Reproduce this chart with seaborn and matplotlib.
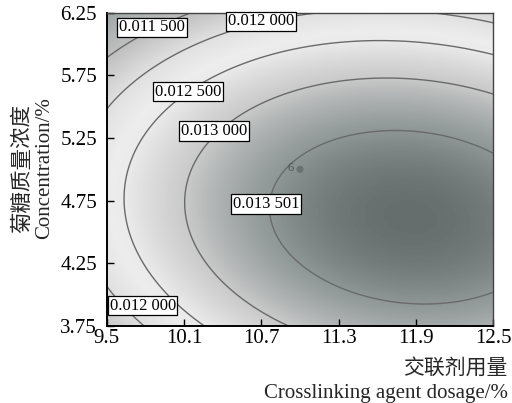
import numpy as np
import matplotlib
matplotlib.use("Agg")
import matplotlib.pyplot as plt
import seaborn as sns
from matplotlib.colors import LinearSegmentedColormap, Normalize

# ---- data ----
# quadratic response-surface coefficients in coded units
# u = (dosage - 11.0) / 1.5 , v = (concentration - 5.0) / 1.25
coef_names = ["b0", "bu", "bv", "buu", "bvv", "buv"]
coef_vals = [0.0135529, 0.0006420, -0.0005458, -0.0006099, -0.0010483, -0.0001685]
center_code = [11.0, 5.0]
step_code = [1.5, 1.25]

contour_levels = [0.0115, 0.0120, 0.0125, 0.0130, 0.013501]
label_texts = ["0.011 500", "0.012 000", "0.012 500", "0.013 000", "0.013 501", "0.012 000"]

x_ticks = [9.5, 10.1, 10.7, 11.3, 11.9, 12.5]
x_ticklabels = ["9.5", "10.1", "10.7", "11.3", "11.9", "12.5"]
y_ticks = [3.75, 4.25, 4.75, 5.25, 5.75, 6.25]
y_ticklabels = ["3.75", "4.25", "4.75", "5.25", "5.75", "6.25"]

design_x = [11.0]
design_y = [5.0]
design_n = ["6"]

xlabel_cn = "交联剂用量"
xlabel_en = "Crosslinking agent dosage/%"
ylabel_cn = "菊糖质量浓度"
ylabel_en = "Concentration/%"

# ---- style ----
sns.set_theme(style="white")
plt.rcParams['font.family'] = ['Liberation Serif', 'Noto Sans CJK SC']
cn_font = ['Noto Sans CJK SC', 'DejaVu Sans']

fig = plt.figure(figsize=(5.12, 4.03), dpi=100)
ax = fig.add_axes([0.2084, 0.1911, 0.7551, 0.7774])

xg = np.linspace(x_ticks[0], x_ticks[-1], 400)
yg = np.linspace(y_ticks[0], y_ticks[-1], 400)
X, Y = np.meshgrid(xg, yg)
U = (X - center_code[0]) / step_code[0]
V = (Y - center_code[1]) / step_code[1]
c = dict(zip(coef_names, coef_vals))
Z = c["b0"] + c["bu"]*U + c["bv"]*V + c["buu"]*U**2 + c["bvv"]*V**2 + c["buv"]*U*V

zmin, zmax = Z.min(), Z.max()
anchors = [(zmin, 0.62), (0.0115, 0.75), (0.0120, 0.88), (0.01235, 0.93),
           (0.0125, 0.92), (0.0130, 0.79), (0.0135, 0.56), (zmax, 0.40)]
pos = [(a - zmin) / (zmax - zmin) for a, _ in anchors]
cols = []
for _, g in anchors:
    t = 0.03 if g < 0.65 else 0.0
    cols.append((g, min(g + t, 1), min(g + t, 1)))
cmap = LinearSegmentedColormap.from_list("dx_gray", list(zip(pos, cols)))
ax.imshow(Z, extent=(x_ticks[0], x_ticks[-1], y_ticks[0], y_ticks[-1]), origin='lower',
          cmap=cmap, norm=Normalize(zmin, zmax), aspect='auto', interpolation='bilinear')
cs = ax.contour(X, Y, Z, levels=contour_levels, colors='#6a6a6a', linewidths=1.0)

# contour labels (horizontal boxes, as in the reference)
label_pos = [(9.851, 6.132), (10.697, 6.180), (10.131, 5.621),
             (10.332, 5.306), (10.736, 4.723), (9.779, 3.912)]
for txt, (lx, ly) in zip(label_texts, label_pos):
    ax.text(lx, ly, txt, fontsize=12, ha='center', va='center', color='black',
            bbox=dict(boxstyle='square,pad=0.1', facecolor='white', edgecolor='black',
                      linewidth=0.9), zorder=5)

# design point
ax.scatter(design_x, design_y, s=26, color='#6b7070', edgecolor='none', zorder=6)
for dx, dy, n in zip(design_x, design_y, design_n):
    ax.annotate(n, (dx, dy), xytext=(-6.5, 1), textcoords='offset points', ha='center',
                va='center', fontsize=9, color='#4f5252', zorder=6)

ax.set_xlim(x_ticks[0], x_ticks[-1])
ax.set_ylim(y_ticks[0], y_ticks[-1])
ax.set_xticks(x_ticks)
ax.set_xticklabels(x_ticklabels)
ax.set_yticks(y_ticks)
ax.set_yticklabels(y_ticklabels)
ax.tick_params(axis='both', direction='in', length=5, width=1, color='black',
               labelsize=15, labelcolor='black', bottom=True, left=True, top=False, right=False)
ax.tick_params(axis='x', pad=2)
ax.tick_params(axis='y', pad=7)
for s in ['left', 'bottom']:
    ax.spines[s].set_color('black')
    ax.spines[s].set_linewidth(1.4)
for s in ['top', 'right']:
    ax.spines[s].set_color('#444444')
    ax.spines[s].set_linewidth(1.0)

fig.text(0.992, 0.0880, xlabel_cn, ha='right', va='center', fontsize=15, family=cn_font)
fig.text(0.992, 0.0135, xlabel_en, ha='right', va='baseline', fontsize=15)
fig.text(0.044, 0.582, ylabel_cn, ha='center', va='center', rotation=90, fontsize=15.5, family=cn_font)
fig.text(0.088, 0.582, ylabel_en, ha='center', va='center', rotation=90, fontsize=15)

plt.savefig("out.png", dpi=100)
